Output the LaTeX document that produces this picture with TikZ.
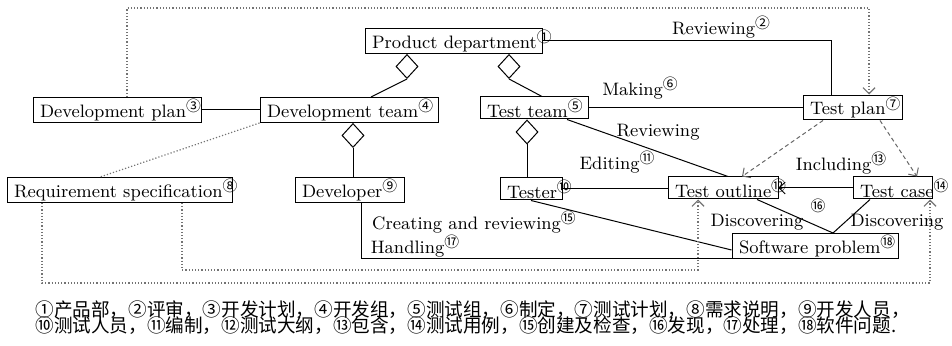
\documentclass[tikz,border=0pt]{standalone}
\usepackage{fontspec}
\newfontfamily\cjk{Noto Sans CJK SC}
\usetikzlibrary{shapes.geometric,arrows.meta}

\newcommand{\cn}[1]{\raisebox{0.32em}{\cjk\fontsize{7.4}{8}\selectfont #1}}
% fixed-width box text, number may run over the border
\newcommand{\boxtext}[3]{\makebox[#1][l]{#2\rlap{\cn{#3}}}}

\tikzset{
  box/.style={draw, line width=0.5pt, inner xsep=3.5pt, inner ysep=0.8pt,
    minimum height=11pt, font=\fontsize{9}{10}\selectfont},
  dm/.style={draw, diamond, line width=0.5pt, fill=white, inner sep=0pt,
    minimum width=11pt, minimum height=12pt, anchor=north},
  lbl/.style={inner sep=0pt, font=\fontsize{9}{10}\selectfont},
  captext/.style={inner sep=0pt, anchor=west, font=\cjk\fontsize{9.3}{11}\selectfont},
  link/.style={line width=0.5pt},
  dotlink/.style={line width=0.6pt, black!55, densely dotted},
  dashlink/.style={line width=0.5pt, black!60, dash pattern=on 2pt off 1.5pt},
  arrowend/.style={-{Straight Barb[length=3pt,width=6pt]}}
}

\begin{document}
\begin{tikzpicture}[x=0.5pt,y=-0.5pt]

    \useasboundingbox (0,0) rectangle (952,346);

    % boxes
    \node[box] (prod) at (453.5,41) {\boxtext{81.5pt}{Product department}{①}};
    \node[box] (devplan) at (117,110) {\boxtext{77pt}{Development plan}{③}};
    \node[box] (devteam) at (349,110) {\boxtext{82pt}{Development team}{④}};
    \node[box] (testteam) at (534,108) {\boxtext{47pt}{Test team}{⑤}};
    \node[box] (testplan) at (852.5,107.5) {\boxtext{42.5pt}{Test plan}{⑦}};
    \node[box] (reqspec) at (119.5,190) {\boxtext{105.5pt}{Requirement specification}{⑧}};
    \node[box] (developer) at (349.5,190) {\boxtext{47.5pt}{Developer}{⑨}};
    \node[box] (tester) at (531,189) {\boxtext{24pt}{Tester}{⑩}};
    \node[box] (outline) at (723,188) {\boxtext{48pt}{Test outline}{⑫}};
    \node[box] (tcase) at (892.5,188) {\boxtext{32.5pt}{Test case}{⑭}};
    \node[box] (swprob) at (815,246) {\boxtext{76pt}{Software problem}{⑱}};

    % aggregation diamonds
    \node[dm] (dmprod1) at ([xshift=-23.25pt]prod.south) {};
    \node[dm] (dmprod2) at ([xshift=27.75pt]prod.south) {};
    \node[dm] (dmdev) at ([xshift=2pt]devteam.south) {};
    \node[dm] (dmtest) at ([xshift=-3.5pt]testteam.south) {};

    \coordinate (topright) at (869,8);
    \coordinate (innerloop) at (400,270);
    \coordinate (outerloop) at (400,283);

    % solid links
    \draw[link] (dmprod1.south) -- ([xshift=11pt]devteam.north);
    \draw[link] (dmprod2.south) -- ([xshift=4pt]testteam.north);
    \draw[link] (dmdev.south) -- (dmdev.south |- developer.north);
    \draw[link] (dmtest.south) -- (dmtest.south |- tester.north);
    \draw[link] (devplan.east) -- (devteam.west);
    \draw[link] (testteam.east) -- (testteam.east -| testplan.west);
    \draw[link] (prod.east) -| ([xshift=-10.75pt]testplan.north);
    \draw[link] ([xshift=16.5pt]testteam.south) -- ([xshift=2.5pt]outline.north);
    \draw[link] (tester.east) -- (tester.east -| outline.west);
    \draw[link, arrowend] (tcase.west) -- (outline.east);
    \draw[link] ([xshift=17pt]outline.south) -- ([xshift=9pt]swprob.north);
    \draw[link] ([xshift=-11.25pt]tcase.south) -- ([xshift=9pt]swprob.north);
    \draw[link] (tester.south) -- ([yshift=-2pt]swprob.west);
    \draw[link] (swprob.south west) -| ([xshift=5.75pt]developer.south);

    % dashed links
    \draw[dashlink, arrowend] ([xshift=-14.75pt]testplan.south) -- ([xshift=9.5pt]outline.north);
    \draw[dashlink, arrowend] ([xshift=13.75pt]testplan.south) -- ([xshift=12.25pt]tcase.north);

    % dotted links
    \draw[dotlink] (devteam.south west) -- ([xshift=-9.75pt]reqspec.north);
    \draw[dotlink, arrowend] ([xshift=5pt]devplan.north) |- (topright) -- ([xshift=8.25pt]testplan.north);
    \draw[dotlink, arrowend] ([xshift=31.25pt]reqspec.south) |- (innerloop) -| ([xshift=-12.5pt]outline.south);
    \draw[dotlink, arrowend] ([xshift=-38.75pt]reqspec.south) |- (outerloop) -| ([xshift=18.75pt]tcase.south);

    % labels
    \node[lbl] (lblrev) at (721,27) {Reviewing\cn{②}};
    \node[lbl] (lblmake) at (640,88) {Making\cn{⑥}};
    \node[lbl] (lblrevtwo) at (658,132) {Reviewing};
    \node[lbl] (lbledit) at (617,162) {Editing\cn{⑪}};
    \node[lbl] (lblinc) at (841,163) {Including\cn{⑬}};
    \node[lbl] (lbldisc) at (757,222) {Discovering};
    \node[lbl] (lblsixteen) at (818,208) {\cn{⑯}};
    \node[lbl] (lbldisctwo) at (897,222) {Discovering};
    \node[lbl] (lblcreate) at (474,222) {Creating and reviewing\cn{⑮}};
    \node[lbl] (lblhandle) at (415,246) {Handling\cn{⑰}};

    % caption
    \node[captext] (capa) at (35,310) {①产品部，②评审，③开发计划，④开发组，⑤测试组，⑥制定，⑦测试计划，⑧需求说明，⑨开发人员，};
    \node[captext] (capb) at (35,326) {⑩测试人员，⑪编制，⑫测试大纲，⑬包含，⑭测试用例，⑮创建及检查，⑯发现，⑰处理，⑱软件问题.};

\end{tikzpicture}
\end{document}
